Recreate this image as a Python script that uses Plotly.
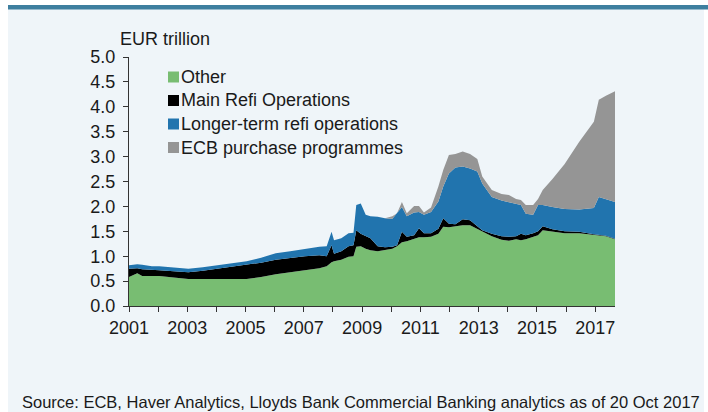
import plotly.graph_objects as go

# ---- data (EUR trillion) ----
dates = ["2001-01-01", "2001-04-15", "2001-06-15", "2001-10-15", "2002-01-15", "2002-07-15",
         "2003-01-15", "2003-07-15", "2004-01-15", "2004-07-15", "2005-01-15", "2005-07-15",
         "2006-01-15", "2006-07-15", "2007-01-15", "2007-07-15", "2007-10-15", "2007-12-15",
         "2008-01-15", "2008-04-15", "2008-07-15", "2008-09-15", "2008-10-20", "2008-12-15",
         "2009-02-15", "2009-04-15", "2009-07-15", "2009-10-15", "2010-01-15", "2010-03-15",
         "2010-05-15", "2010-07-15", "2010-10-15", "2010-12-15", "2011-02-15", "2011-05-15",
         "2011-08-15", "2011-10-15", "2011-12-25", "2012-03-15", "2012-06-15", "2012-09-15",
         "2012-12-15", "2013-02-15", "2013-06-15", "2013-10-15", "2014-01-15", "2014-04-15",
         "2014-06-15", "2014-08-15", "2014-11-15", "2015-01-15", "2015-03-15", "2015-07-15",
         "2015-12-15", "2016-06-15", "2016-12-15", "2017-02-15", "2017-05-15", "2017-09-06"]

other = [0.58, 0.66, 0.60, 0.60, 0.60, 0.57, 0.54, 0.54, 0.54, 0.54, 0.54, 0.58,
         0.64, 0.68, 0.72, 0.76, 0.80, 0.88, 0.90, 0.93, 0.99, 1.00, 1.19, 1.20,
         1.15, 1.12, 1.10, 1.12, 1.15, 1.20, 1.28, 1.30, 1.35, 1.38, 1.38, 1.39,
         1.45, 1.59, 1.58, 1.60, 1.62, 1.62, 1.55, 1.49, 1.40, 1.33, 1.31, 1.34,
         1.32, 1.34, 1.38, 1.42, 1.52, 1.49, 1.46, 1.46, 1.43, 1.42, 1.40, 1.34]

main_refi = [0.17, 0.10, 0.14, 0.12, 0.12, 0.13, 0.14, 0.17, 0.21, 0.24, 0.28, 0.29,
             0.29, 0.29, 0.28, 0.26, 0.20, 0.34, 0.15, 0.17, 0.21, 0.22, 0.33, 0.25,
             0.25, 0.24, 0.10, 0.06, 0.04, 0.02, 0.21, 0.09, 0.07, 0.18, 0.08, 0.07,
             0.10, 0.17, 0.07, 0.04, 0.12, 0.10, 0.05, 0.03, 0.05, 0.07, 0.08, 0.06,
             0.13, 0.08, 0.08, 0.08, 0.08, 0.05, 0.04, 0.03, 0.01, 0.01, 0.01, 0.01]

longer_term = [0.07, 0.08, 0.09, 0.08, 0.08, 0.07, 0.07, 0.07, 0.07, 0.07, 0.08, 0.10,
               0.13, 0.13, 0.15, 0.17, 0.20, 0.27, 0.27, 0.26, 0.26, 0.25, 0.51, 0.61,
               0.43, 0.44, 0.59, 0.58, 0.56, 0.64, 0.50, 0.41, 0.46, 0.33, 0.37, 0.43,
               0.55, 0.64, 1.01, 1.14, 1.06, 1.04, 1.10, 0.94, 0.74, 0.72, 0.70, 0.65,
               0.58, 0.43, 0.37, 0.53, 0.43, 0.45, 0.45, 0.45, 0.53, 0.76, 0.74, 0.74]

purchases = [0.00, 0.00, 0.00, 0.00, 0.00, 0.00, 0.00, 0.00, 0.00, 0.00, 0.00, 0.00,
             0.00, 0.00, 0.00, 0.00, 0.00, 0.00, 0.00, 0.00, 0.00, 0.00, 0.00, 0.00,
             0.00, 0.00, 0.00, 0.00, 0.05, 0.00, 0.10, 0.06, 0.13, 0.12, 0.05, 0.09,
             0.30, 0.33, 0.37, 0.27, 0.30, 0.29, 0.25, 0.14, 0.14, 0.13, 0.14, 0.10,
             0.10, 0.18, 0.20, 0.12, 0.30, 0.56, 0.90, 1.36, 1.73, 1.95, 2.07, 2.22]

series_names = ["Other", "Main Refi Operations", "Longer-term refi operations", "ECB purchase programmes"]
series_values = [other, main_refi, longer_term, purchases]
series_colors = ["#78bd72", "#000000", "#2174ae", "#959595"]

year_ticks = [f"{y}-01-01" for y in range(2001, 2018)]
year_labels = [str(y) if (y - 2001) % 2 == 0 else "" for y in range(2001, 2018)]
y_ticks = [0.0, 0.5, 1.0, 1.5, 2.0, 2.5, 3.0, 3.5, 4.0, 4.5, 5.0]

FONT = "Arial, Liberation Sans, sans-serif"
BG = "#eff5f9"
TXT = "#1a1a1a"
FS = 18

fig = go.Figure()
for name, vals, col in zip(series_names, series_values, series_colors):
    fig.add_trace(go.Scatter(
        x=dates, y=vals, name=name, mode="lines", stackgroup="one",
        line=dict(width=0, color=col), fillcolor=col, showlegend=False,
    ))

L, R, T, B = 129, 93, 57, 106
PW, PH = 708 - L - R, 412 - T - B


def px(x):
    return (x - L) / PW


def py(y):
    return (412 - B - y) / PH


shapes = [
    dict(type="rect", xref="paper", yref="paper", x0=px(-2), x1=px(8), y0=py(420), y1=py(-2),
         fillcolor="white", line=dict(width=0)),
    dict(type="rect", xref="paper", yref="paper", x0=px(704), x1=px(712), y0=py(420), y1=py(-2),
         fillcolor="white", line=dict(width=0)),
    dict(type="rect", xref="paper", yref="paper", x0=px(-2), x1=px(712), y0=py(5), y1=py(-2),
         fillcolor="white", line=dict(width=0)),
    dict(type="rect", xref="paper", yref="paper", x0=px(8), x1=px(712), y0=py(9.5), y1=py(5),
         fillcolor="#3e7f9f", line=dict(width=0)),
]

annotations = [
    dict(text="EUR trillion", xref="paper", yref="paper", x=px(118), y=py(39),
         xanchor="left", yanchor="middle", showarrow=False,
         font=dict(size=FS, family=FONT, color=TXT)),
    dict(text="Source: ECB, Haver Analytics, Lloyds Bank Commercial Banking analytics as of 20 Oct 2017",
         xref="paper", yref="paper", x=px(20), y=py(402),
         xanchor="left", yanchor="middle", showarrow=False,
         font=dict(size=16.5, family=FONT, color=TXT)),
]

# legend (square swatches + labels)
legend_rows = [77, 100.5, 124, 147.5]
for name, col, yc in zip(series_names, series_colors, legend_rows):
    shapes.append(dict(type="rect", xref="paper", yref="paper",
                       x0=px(168), x1=px(179), y0=py(yc + 5.5), y1=py(yc - 5.5),
                       fillcolor=col, line=dict(width=0)))
    annotations.append(dict(text=name, xref="paper", yref="paper", x=px(179), y=py(yc),
                            xanchor="left", yanchor="middle", showarrow=False,
                            font=dict(size=FS, family=FONT, color=TXT)))

fig.update_layout(
    width=708, height=412,
    margin=dict(l=L, r=R, t=T, b=B),
    paper_bgcolor=BG, plot_bgcolor=BG,
    font=dict(family=FONT, size=FS, color=TXT),
    showlegend=False,
    xaxis=dict(type="date", range=["2001-01-01", "2017-09-06"],
               tickvals=year_ticks, ticktext=year_labels,
               ticks="outside", ticklen=5, tickwidth=1, tickcolor="#333333",
               showline=True, linecolor="#333333", linewidth=1,
               showgrid=False, zeroline=False,
               tickfont=dict(size=FS, family=FONT, color=TXT)),
    yaxis=dict(range=[0, 5], tickvals=y_ticks, tickformat=".1f",
               ticks="outside", ticklen=5, tickwidth=1, tickcolor="#333333",
               ticklabelstandoff=4,
               showline=True, linecolor="#333333", linewidth=1,
               showgrid=False, zeroline=False,
               tickfont=dict(size=FS, family=FONT, color=TXT)),
    shapes=shapes,
    annotations=annotations,
)

fig.write_html("out.html")
